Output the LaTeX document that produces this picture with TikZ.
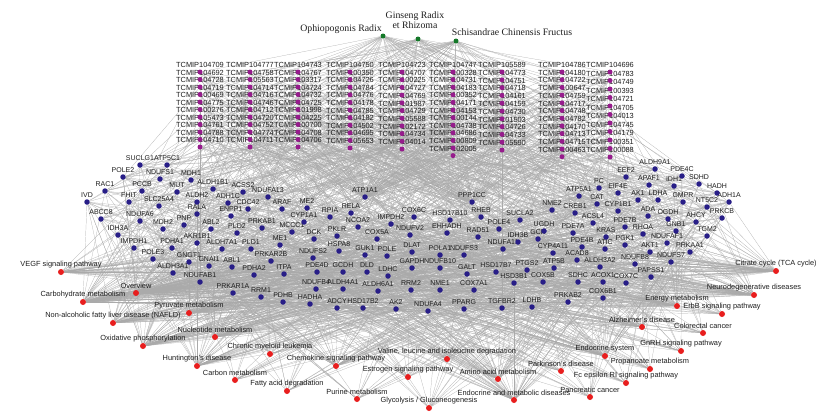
\documentclass[tikz,border=0pt]{standalone}
\usepackage{fontspec}
\setmainfont{Liberation Sans}
\newfontfamily\herbfont{Liberation Serif}
\pgfdeclarelayer{bg}\pgfdeclarelayer{lab}\pgfsetlayers{bg,lab,main}
\definecolor{edgegray}{RGB}{170,170,170}
\definecolor{purp}{RGB}{150,28,140}
\definecolor{navyb}{RGB}{40,30,135}
\definecolor{redn}{RGB}{232,30,30}
\definecolor{greenh}{RGB}{20,120,40}
\definecolor{txt}{RGB}{30,30,30}
\tikzset{
  edge/.style={draw=edgegray, line width=0.2pt},
  pdot/.style={circle, fill=purp, inner sep=0pt, minimum size=5pt},
  bdot/.style={circle, fill=navyb, inner sep=0pt, minimum size=5.5pt},
  rdot/.style={circle, fill=redn, inner sep=0pt, minimum size=6pt},
  gdot/.style={circle, fill=greenh, inner sep=0pt, minimum size=5pt},
  clab/.style={font=\fontsize{7.4}{8}\selectfont, inner sep=0pt, text=txt},
  blab/.style={font=\fontsize{7}{8}\selectfont, inner sep=0pt, text=txt},
  plab/.style={font=\fontsize{7.4}{8}\selectfont, inner sep=0pt, text=txt},
  hlab/.style={font=\herbfont\fontsize{9.8}{10.5}\selectfont, inner sep=0pt, text=txt, align=center}
}
\newcommand\compdots[5]{%
  \foreach \lab [count=\rr] in #5 {%
    \pgfmathsetmacro\yy{#3+#4*(\rr-1)}%
    \node[pdot] (c#1-\rr) at (#2,{\yy+7}) {};%
  }}
\newcommand\complabs[5]{%
  \foreach \lab [count=\rr] in #5 {%
    \pgfmathsetmacro\yy{#3+#4*(\rr-1)}%
    \node[clab] (cl#1-\rr) at (#2,\yy) {TCMIP\lab};%
  }}
\def\cA{104709,104692,104728,104719,100469,104775,100276,105473,104761,104788,104710}
\def\cB{104777,104758,105563,104714,104716,104746,104712,104720,104752,104774,104711}
\def\cC{104743,104767,103317,104724,104732,104725,101998,104225,100700,104708,104706}
\def\cD{104750,100350,104726,104784,104776,104178,104785,104182,104502,104695,105653}
\def\cE{104723,104707,100225,104727,104769,101987,104729,105588,102172,104734,104014}
\def\cF{104747,100328,104731,104183,100352,104171,104153,100144,104738,104686,100809,102005}
\def\cG{105589,104773,104751,104718,104161,104159,104730,101503,104726,104733,105590}
\def\cH{104786,104180,104722,100647,104759,104717,104748,104782,104170,104713,104715,100463}
\def\cI{104696,104783,104749,100393,104721,104705,104013,104745,104179,100351,100088}
\def\tlist{%
140/165/SUCLG1,167/165/ATP5C1,123/177/POLE2,160/179/NDUFS1,191/180/MDH1,105/191/RAC1,142/191/PCCB,177/192/MUT,
213/189/ALDH1B1,243/192/ACSS2,268/197/NDUFA13,87/202/IVD,129/202/FHIT,159/206/SLC25A4,197/202/ALDH2,228/203/ADH1C,
248/209/CDC42,282/209/ARAF,101/219/ABCC8,140/221/NDUFA6,197/214/RALA,231/216/ENPP1,163/229/MDH2,184/225/PNP,
211/229/ABL2,237/233/PLD2,262/228/PRKAB1,292/232/MCCC1,304/222/CYP1A1,280/245/ME1,118/235/IDH3A,134/248/IMPDH1,
172/248/PDHA1,197/243/AKR1B1,222/249/ALDH7A1,251/249/PLD1,307/208/ME2,330/217/RPIA,351/213/RELA,358/227/NCOA2,
414/217/COX6C,391/224/IMPDH2,450/220/HSD17B10,481/217/RHEB,520/220/SUCLA2,314/239/DCK,337/236/PKLR,377/239/COX5A,
410/235/NDUFV2,447/233/EHHADH,478/237/RAD51,499/229/POLE4,518/242/IDH3B,538/239/GCK,365/197/ATP1A1,472/202/PPP1CC,339/251/HSPA8,
365/255/GUK1,387/256/POLE,412/252/DLAT,440/255/POLA1,464/255/NDUFS3,503/249/NDUFA11,553/253/CYP4A11,655/169/ALDH9A1,
682/176/PDE4C,626/177/EEF2,649/185/APAF1,674/186/IDH1,699/184/SDHD,717/193/HADH,729/202/ADH1A,599/188/PC,
618/193/EIF4E,579/196/ATP5A1,638/200/AK1,658/200/LDHA,683/202/GMPR,707/207/NT5C2,722/218/PRKCB,597/204/CAT,
618/211/CYP1B1,552/210/NME2,575/213/CREB1,648/216/ADA,668/219/OGDH,696/222/AHCY,593/223/ACSL4,625/227/PDE7B,
676/231/GNB1,707/236/TGM2,544/231/UGDH,573/233/PDE7A,606/237/KRAS,643/234/RHOA,582/247/PDE4B,625/245/PGK1,
605/249/ATIC,667/243/NDUFAF1,650/252/AKT1,690/252/PRKAA1,577/260/ACAD8,600/267/ALDH3A2,635/264/NDUFB8,671/262/NDUFS7,554/268/ATP5B,
543/282/COX5B,578/282/SDHC,603/282/ACOX1,626/283/COX7C,651/277/PAPSS1,568/302/PRKAB2,603/298/COX6B1,153/259/POLE3,
189/262/GNGT1,209/266/GNAI1,232/267/ABL1,271/261/PRKAR2B,313/258/NDUFS2,173/273/ALDH3A1,254/275/PDHA2,284/274/ITPA,
317/272/PDE4D,200/282/NDUFAB1,316/289/NDUFB4,233/293/PRKAR1A,261/297/RRM1,283/302/PDHB,310/304/HADHA,343/272/GCDH,
367/272/DLD,388/276/LDHC,412/268/GAPDH,440/268/NDUFB10,467/274/GALT,496/272/HSD17B7,527/270/PTGS2,514/283/HSD3B1,
343/289/ALDH4A1,378/291/ALDH6A1,411/290/RRM2,440/290/NME1,474/290/COX7A1,337/308/ADCY,363/308/HSD17B2,396/309/AK2,
428/311/NDUFA4,464/309/PPARG,502/308/TGFBR2,532/307/LDHB}
\def\plist{%
61/272/{VEGF signaling pathway},83/302/{Carbohydrate metabolism},136/293/{Overview},
113/323/{Non-alcoholic fatty liver disease (NAFLD)},189/313/{Pyruvate metabolism},143/346/{Oxidative phosphorylation},
215/337/{Nucleotide metabolism},197/366/{Huntington's disease},235/380/{Carbon metabolism},
270/354/{Chronic myeloid leukemia},287/391/{Fatty acid degradation},336/366/{Chemokine signaling pathway},
357/399/{Purine metabolism},408/377/{Estrogen signaling pathway},447/359/{Valine, leucine and isoleucine degradation},
429/408/{Glycolysis {/} Gluconeogenesis},498/379/{Amino acid metabolism},514/400/{Endocrine and metabolic diseases},
561/371/{Parkinson's disease},590/397/{Pancreatic cancer},605/356/{Endocrine system},
626/383/{Fc epsilon RI signaling pathway},650/369/{Propanoate metabolism},681/351/{GnRH signaling pathway},
642/327/{Alzheimer's disease},703/333/{Colorectal cancer},677/306/{Energy metabolism},
722/314/{ErbB signaling pathway},754/295/{Neurodegenerative diseases},776/271/{Citrate cycle (TCA cycle)}}
\begin{document}
\begin{tikzpicture}[x=1pt,y=-1pt]
\useasboundingbox (0,0) rectangle (826,416);
\begin{pgfonlayer}{bg}
\fill[white] (0,0) rectangle (826,416);
\end{pgfonlayer}
% herbs
\node[gdot] (h1) at (383,36) {};
\node[gdot] (h2) at (418,39) {};
\node[gdot] (h3) at (456,41) {};
% compounds
\compdots{1}{200}{65}{7.5}{\cA}
\compdots{2}{250}{65}{7.5}{\cB}
\compdots{3}{298}{65}{7.5}{\cC}
\compdots{4}{350}{65}{7.6}{\cD}
\compdots{5}{402}{65}{7.7}{\cE}
\compdots{6}{453}{65}{7.6}{\cF}
\compdots{7}{502}{65}{7.8}{\cG}
\compdots{8}{562}{65}{7.7}{\cH}
\compdots{9}{610}{65}{8.5}{\cI}
% targets
\foreach \x/\y/\lab [count=\ii] in \tlist {\node[bdot] (t\ii) at (\x,\y) {}; \xdef\ntg{\ii}}
% pathways
\foreach \x/\y/\lab [count=\ii] in \plist {\node[rdot] (p\ii) at (\x,\y) {};}
% labels
\begin{pgfonlayer}{lab}
\node[hlab] (h1l) at (341,29) {Ophiopogonis Radix};
\node[hlab] (h2l) at (415,20) {Ginseng Radix\\et Rhizoma};
\node[hlab] (h3l) at (512,32) {Schisandrae Chinensis Fructus};
\complabs{1}{200}{65}{7.5}{\cA}
\complabs{2}{250}{65}{7.5}{\cB}
\complabs{3}{298}{65}{7.5}{\cC}
\complabs{4}{350}{65}{7.6}{\cD}
\complabs{5}{402}{65}{7.7}{\cE}
\complabs{6}{453}{65}{7.6}{\cF}
\complabs{7}{502}{65}{7.8}{\cG}
\complabs{8}{562}{65}{7.7}{\cH}
\complabs{9}{610}{65}{8.5}{\cI}
\foreach \x/\y/\lab [count=\ii] in \tlist {\node[blab] (tl\ii) at (\x,{\y-7}) {\lab};}
\foreach \x/\y/\lab [count=\ii] in \plist {\node[plab] (pl\ii) at (\x,{\y-7}) {\lab};}
\end{pgfonlayer}
% edges
\begin{pgfonlayer}{bg}
\foreach \hh in {1,2,3}{
  \foreach \col/\nn in {1/11,2/11,3/11,4/11,5/11,6/12,7/11,8/12,9/11}{
    \foreach \rr in {1,...,\nn}{
      \pgfmathtruncatemacro\ok{mod(\col+\rr+\hh,3)==0}
      \ifnum\ok=1 \draw[edge] (h\hh) -- (c\col-\rr);\fi
    }}}
\foreach \col/\nn in {1/11,2/11,3/11,4/11,5/11,6/12,7/11,8/12,9/11}{
  \foreach \rr in {1,...,\nn}{
    \pgfmathtruncatemacro\hub{mod(\col+\rr,2)+55}
    \draw[edge] (c\col-\rr) -- (t\hub);
    \foreach \kk in {0,1,2,3,4,5}{
      \pgfmathtruncatemacro\tg{mod(\col*31+\rr*13+\kk*41,\ntg)+1}
      \draw[edge] (c\col-\rr) -- (t\tg);
    }}}
\foreach \jj in {1,...,\ntg}{
  \foreach \kk in {0,1,2}{
    \pgfmathtruncatemacro\pp{mod(\jj*7+\kk*11,30)+1}
    \draw[edge] (t\jj) -- (p\pp);
  }}
\foreach \pp/\mm in {2/2,3/2,6/3,27/3,29/3,30/3,4/4,5/4,7/4,21/4,18/5,17/5,8/5,25/5,1/6,12/6}{
  \foreach \jj in {1,...,\ntg}{
    \pgfmathtruncatemacro\ok{mod(\jj+\pp,\mm)==0}
    \ifnum\ok=1 \draw[edge] (t\jj) -- (p\pp);\fi
  }}
\end{pgfonlayer}
\end{tikzpicture}
\end{document}
